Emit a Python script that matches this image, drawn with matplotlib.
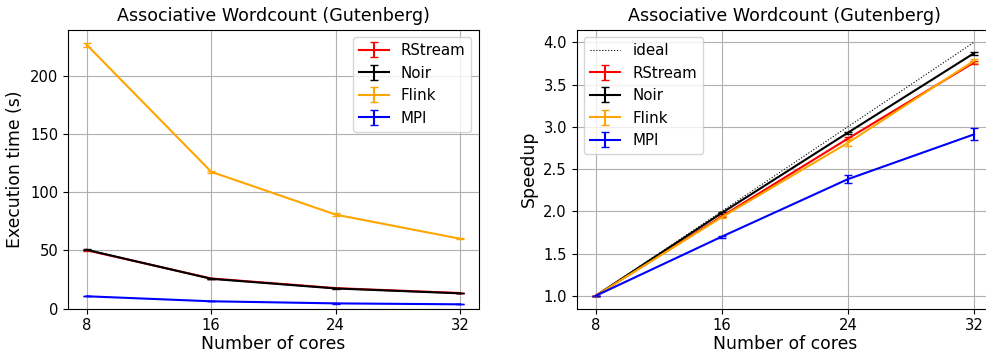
import numpy as np
import matplotlib
matplotlib.use("Agg")
import matplotlib.pyplot as plt

cores = [8, 16, 24, 32]

# tempi di esecuzione (s)
rstream_time = [50.0, 25.8, 17.5, 13.3]
noir_time = [50.4, 25.5, 17.2, 13.0]
flink_time = [226.5, 117.4, 80.6, 59.9]
mpi_time = [10.5, 6.2, 4.4, 3.6]

rstream_time_err = [0.4, 0.2, 0.2, 0.1]
noir_time_err = [0.4, 0.2, 0.1, 0.1]
flink_time_err = [1.8, 0.8, 1.0, 0.4]
mpi_time_err = [0.1, 0.1, 0.1, 0.1]

# speedup rispetto a 8 core
ideal_speedup = [1.0, 2.0, 3.0, 4.0]
rstream_speedup = [1.0, 1.94, 2.86, 3.76]
noir_speedup = [1.0, 1.98, 2.93, 3.87]
flink_speedup = [1.0, 1.93, 2.81, 3.78]
mpi_speedup = [1.0, 1.70, 2.38, 2.91]

rstream_speedup_err = [0.0, 0.01, 0.02, 0.02]
noir_speedup_err = [0.0, 0.01, 0.01, 0.02]
flink_speedup_err = [0.0, 0.01, 0.04, 0.02]
mpi_speedup_err = [0.0, 0.01, 0.05, 0.07]

labels = ["RStream", "Noir", "Flink", "MPI"]
colori = ["red", "black", "orange", "blue"]

fig = plt.figure(figsize=(9.87, 3.54), dpi=100)
ax1 = fig.add_axes([0.0689, 0.1285, 0.4164, 0.788])
ax2 = fig.add_axes([0.5843, 0.1285, 0.4217, 0.788])

tempi = [rstream_time, noir_time, flink_time, mpi_time]
tempi_err = [rstream_time_err, noir_time_err, flink_time_err, mpi_time_err]
for t, e, lab, c in zip(tempi, tempi_err, labels, colori):
    ax1.errorbar(cores, t, yerr=e, label=lab, color=c, capsize=3, linewidth=1.5)
ax1.set_ylim(bottom=0)
ax1.set_title("Associative Wordcount (Gutenberg)", fontsize=12.6)
ax1.set_xlabel("Number of cores", fontsize=12.4, labelpad=1.5)
ax1.set_ylabel("Execution time (s)", fontsize=12.4)
ax1.set_xticks(cores)
ax1.tick_params(labelsize=10.6)
ax1.grid(True)
ax1.legend(loc="upper right", fontsize=10.8)

ax2.plot(cores, ideal_speedup, color="black", linestyle=":", linewidth=0.8, label="ideal")
speed = [rstream_speedup, noir_speedup, flink_speedup, mpi_speedup]
speed_err = [rstream_speedup_err, noir_speedup_err, flink_speedup_err, mpi_speedup_err]
for s, e, lab, c in zip(speed, speed_err, labels, colori):
    ax2.errorbar(cores, s, yerr=e, label=lab, color=c, capsize=3, linewidth=1.5)
ax2.set_title("Associative Wordcount (Gutenberg)", fontsize=12.6)
ax2.set_xlabel("Number of cores", fontsize=12.4, labelpad=1.5)
ax2.set_ylabel("Speedup", fontsize=12.4)
ax2.set_xticks(cores)
ax2.tick_params(labelsize=10.6)
ax2.grid(True)
ax2.legend(loc="upper left", fontsize=10.8)

fig.savefig("out.png", dpi=100)
